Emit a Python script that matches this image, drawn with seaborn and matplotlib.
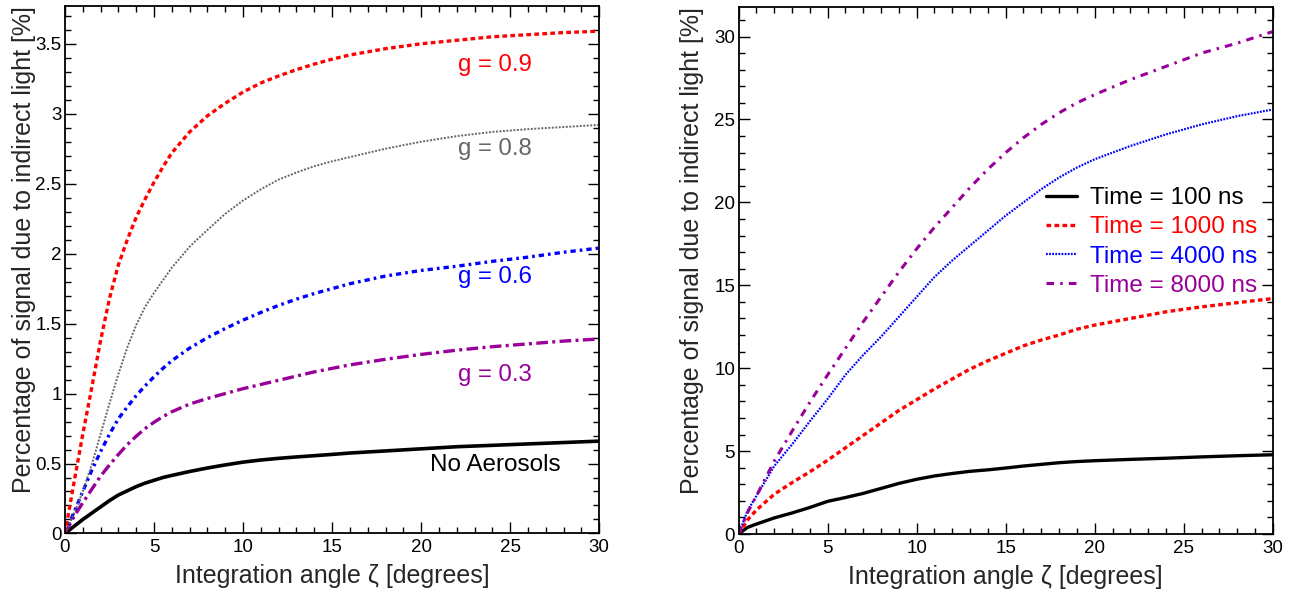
import numpy as np
import pandas as pd
import matplotlib
matplotlib.use("Agg")
import matplotlib.pyplot as plt
from matplotlib.ticker import MultipleLocator, FuncFormatter
import seaborn as sns

# ---------------- data ----------------
x_left = [0, 0.5, 1, 1.5, 2, 2.5, 3, 3.5, 4, 4.5, 5, 5.5, 6, 7, 8, 9, 10, 11, 12, 13, 14, 15, 16, 18, 20, 22, 24, 26, 28, 30]
g09 = [0, 0.36, 0.71, 1.04, 1.38, 1.68, 1.92, 2.10, 2.26, 2.39, 2.51, 2.62, 2.72, 2.87, 2.985, 3.075, 3.155, 3.22, 3.27, 3.315,
       3.355, 3.39, 3.42, 3.465, 3.50, 3.525, 3.55, 3.565, 3.58, 3.59]
g08 = [0, 0.14, 0.30, 0.49, 0.71, 0.93, 1.14, 1.33, 1.49, 1.62, 1.72, 1.81, 1.90, 2.05, 2.17, 2.285, 2.38, 2.46, 2.53, 2.58,
       2.625, 2.66, 2.69, 2.75, 2.80, 2.84, 2.87, 2.89, 2.905, 2.92]
g06 = [0, 0.15, 0.30, 0.45, 0.585, 0.71, 0.82, 0.905, 0.985, 1.055, 1.12, 1.18, 1.235, 1.325, 1.40, 1.465, 1.525, 1.58, 1.63,
       1.675, 1.715, 1.75, 1.785, 1.84, 1.88, 1.91, 1.945, 1.975, 2.01, 2.04]
g03 = [0, 0.12, 0.22, 0.315, 0.41, 0.49, 0.565, 0.635, 0.695, 0.75, 0.795, 0.835, 0.87, 0.925, 0.965, 1.0, 1.035, 1.065, 1.095,
       1.125, 1.155, 1.18, 1.205, 1.245, 1.28, 1.31, 1.335, 1.355, 1.375, 1.39]
no_aer = [0, 0.05, 0.10, 0.145, 0.19, 0.235, 0.275, 0.305, 0.335, 0.36, 0.38, 0.40, 0.415, 0.443, 0.468, 0.49, 0.51, 0.525, 0.537,
          0.547, 0.556, 0.565, 0.575, 0.59, 0.605, 0.62, 0.63, 0.64, 0.65, 0.66]

x_right = [0, 0.5, 1, 2, 3, 4, 5, 6, 7, 8, 9, 10, 11, 12, 13, 14, 15, 16, 17, 18, 19, 20, 22, 24, 26, 28, 30]
t100 = [0, 0.40, 0.60, 0.97, 1.27, 1.60, 1.97, 2.20, 2.45, 2.75, 3.05, 3.30, 3.50, 3.65, 3.78, 3.87, 3.98, 4.10, 4.20, 4.30,
        4.37, 4.42, 4.50, 4.57, 4.65, 4.72, 4.78]
t1000 = [0, 0.85, 1.45, 2.4, 3.1, 3.75, 4.45, 5.2, 5.95, 6.7, 7.45, 8.1, 8.75, 9.35, 9.95, 10.45, 10.9, 11.35, 11.7, 12.0,
         12.35, 12.6, 13.0, 13.4, 13.7, 13.95, 14.2]
t4000 = [0, 1.4, 2.3, 4.1, 5.4, 6.8, 8.15, 9.6, 10.8, 11.9, 13.1, 14.3, 15.5, 16.5, 17.4, 18.3, 19.2, 20.0, 20.8, 21.5,
         22.1, 22.6, 23.4, 24.1, 24.7, 25.2, 25.6]
t8000 = [0, 1.3, 2.3, 4.4, 6.2, 7.95, 9.6, 11.2, 12.8, 14.3, 15.8, 17.2, 18.5, 19.7, 20.9, 22.0, 23.0, 23.9, 24.7, 25.4,
         26.0, 26.5, 27.4, 28.2, 29.0, 29.6, 30.3]

left_labels = ["g = 0.9", "g = 0.8", "g = 0.6", "g = 0.3", "No Aerosols"]
right_labels = ["Time = 100 ns", "Time = 1000 ns", "Time = 4000 ns", "Time = 8000 ns"]
xlabel = "Integration angle \u03b6 [degrees]"
ylabel = "Percentage of signal due to indirect light [%]"

# ---------------- style ----------------
sns.set_theme(style="ticks")
plt.rcParams["font.family"] = ["Liberation Sans", "DejaVu Sans"]
plt.rcParams["axes.linewidth"] = 1.3
plt.rcParams["axes.edgecolor"] = "black"

RED = "#ff0000"
GRAY = "#666666"
BLUE = "#0000ff"
PURPLE = "#990099"
BLACK = "#000000"

fig = plt.figure(figsize=(12.97, 5.94), dpi=100)
axL = fig.add_axes([0.0501, 0.1019, 0.4119, 0.8880])
axR = fig.add_axes([0.5695, 0.1010, 0.4118, 0.8877])

df_left = pd.DataFrame({"x": x_left, "g09": g09, "g08": g08, "g06": g06, "g03": g03, "no": no_aer})
df_right = pd.DataFrame({"x": x_right, "t100": t100, "t1000": t1000, "t4000": t4000, "t8000": t8000})

left_specs = [
    ("no", BLACK, 2.6, "-"),
    ("g03", PURPLE, 2.4, (0, (3.5, 1.3, 0.9, 1.3))),
    ("g06", BLUE, 2.4, (0, (1.6, 1.2, 0.8, 1.2))),
    ("g08", GRAY, 1.4, (0, (1, 0.8))),
    ("g09", RED, 2.4, (0, (1.4, 1.0))),
]
for col, c, lw, ls in left_specs:
    sns.lineplot(data=df_left, x="x", y=col, ax=axL, color=c, linewidth=lw, linestyle=ls)

right_specs = [
    ("t100", BLACK, 2.4, "-"),
    ("t1000", RED, 2.4, (0, (1.4, 1.0))),
    ("t4000", BLUE, 1.6, (0, (0.8, 0.6))),
    ("t8000", PURPLE, 2.2, (0, (2.5, 2.0, 0.8, 2.0))),
]
handles = []
for col, c, lw, ls in right_specs:
    sns.lineplot(data=df_right, x="x", y=col, ax=axR, color=c, linewidth=lw, linestyle=ls)
    handles.append(axR.lines[-1])

fmt = FuncFormatter(lambda v, p: "%g" % v)
for ax, ymax, ymaj, ymin in [(axL, 3.77, 0.5, 0.1), (axR, 31.8, 5, 1)]:
    ax.set_xlim(0, 30)
    ax.set_ylim(0, ymax)
    ax.xaxis.set_major_locator(MultipleLocator(5))
    ax.xaxis.set_minor_locator(MultipleLocator(1))
    ax.yaxis.set_major_locator(MultipleLocator(ymaj))
    ax.yaxis.set_minor_locator(MultipleLocator(ymin))
    ax.xaxis.set_major_formatter(fmt)
    ax.yaxis.set_major_formatter(fmt)
    ax.tick_params(which="both", direction="in", top=True, right=True, colors="black",
                   labelsize=13.5, width=1.0)
    ax.tick_params(axis="x", which="major", length=8, pad=4)
    ax.tick_params(axis="x", which="minor", length=4.2)
    ax.tick_params(axis="y", which="major", length=8, pad=2.5)
    ax.tick_params(axis="y", which="minor", length=4.2)
    for s in ax.spines.values():
        s.set_visible(True)
        s.set_color("black")
    ax.set_xlabel(xlabel, fontsize=18)
    ax.set_ylabel(ylabel, fontsize=18, loc="top")
    ax.grid(False)

axL.xaxis.set_label_coords(0.5, -0.058)
axR.xaxis.set_label_coords(0.5, -0.058)
axL.yaxis.set_label_coords(-0.054, 1.0)
axR.yaxis.set_label_coords(-0.064, 1.0)

# annotations on left panel
ann = [(left_labels[0], 3.35, RED), (left_labels[1], 2.75, GRAY), (left_labels[2], 1.83, BLUE),
       (left_labels[3], 1.13, PURPLE)]
for t, yv, c in ann:
    axL.text(22.05, yv, t, color=c, fontsize=17.3, ha="left", va="center")
axL.text(20.5, 0.49, left_labels[4], color=BLACK, fontsize=17.5, ha="left", va="center")

leg = axR.legend(handles, right_labels, loc="upper left", bbox_to_anchor=(0.575, 0.658),
                 frameon=False, fontsize=17.5, handlelength=1.3, handletextpad=0.5,
                 labelspacing=0.3, borderpad=0, borderaxespad=0)
for txt, h in zip(leg.get_texts(), handles):
    txt.set_color(h.get_color())

fig.savefig("out.png", dpi=100, facecolor="white")
